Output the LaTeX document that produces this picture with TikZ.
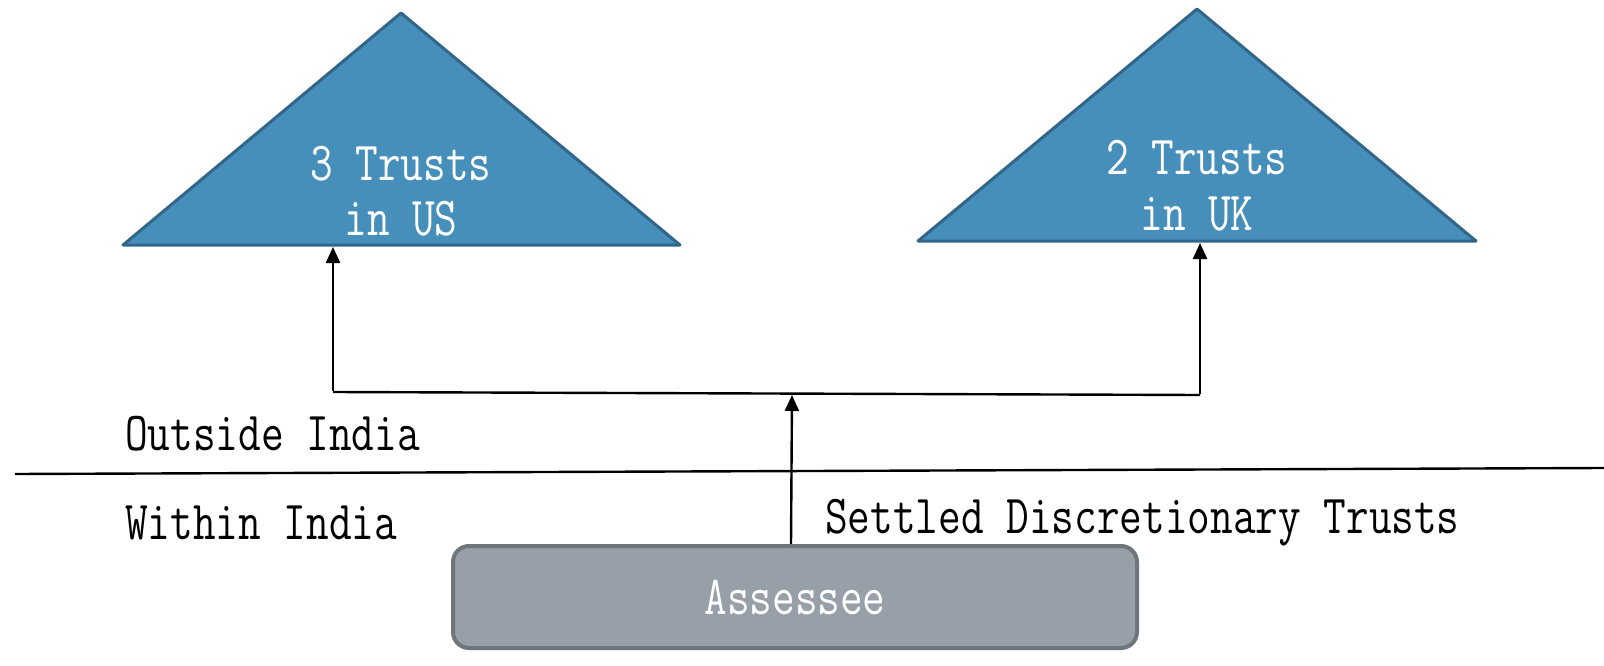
\documentclass[tikz,border=0pt]{standalone}
\usepackage{fontspec}
\newfontfamily\lblfont{Latin Modern Mono}[FakeStretch=0.8]
\usetikzlibrary{arrows.meta}
\definecolor{trifill}{HTML}{468FBA}
\definecolor{tridraw}{HTML}{31658A}
\definecolor{boxfill}{HTML}{979FA8}
\definecolor{boxdraw}{HTML}{6F767B}
\begin{document}
\begin{tikzpicture}[x=1pt,y=-1pt,
 lbl/.style={font=\fontsize{55}{66}\lblfont, inner sep=0pt, anchor=base},
 tri/.style={fill=trifill, draw=tridraw, line width=3pt, line join=round},
 conn/.style={line width=2.4pt},
 arr/.style={conn,-{Triangle[width=14pt,length=16pt]}}]
\useasboundingbox (0,0) rectangle (1604,666);
% triangles
\draw[tri] (401,13) -- (680,245) -- (123,245) -- cycle;
\draw[tri] (1197,9) -- (1476,241) -- (918,241) -- cycle;
\node[lbl, text=white] (us1) at (401,180) {3 Trusts};
\node[lbl, text=white] (us2) at (401,235) {in US};
\node[lbl, text=white] (uk1) at (1197,175) {2 Trusts};
\node[lbl, text=white] (uk2) at (1197,230) {in UK};
% divider
\coordinate (dl) at (15,474);
\coordinate (dr) at (1604,468);
\draw[conn] (dl) -- (dr);
\node[lbl, anchor=base west] (out) at (125,450) {Outside India};
\node[lbl, anchor=base west] (with) at (125,539) {Within India};
\node[lbl, anchor=base west] (sdt) at (825,533) {Settled Discretionary Trusts};
% assessee
\node[draw=boxdraw, fill=boxfill, line width=4pt, rounded corners=16pt,
      minimum width=684pt, minimum height=102pt, inner sep=0pt,
      font=\fontsize{55}{66}\lblfont, text=white] (as) at (795,597) {Assessee};
% connectors
\coordinate (usin) at (333,247);
\coordinate (ukin) at (1200,243);
\coordinate (hl) at (333,392);
\coordinate (hr) at (1200,395);
\coordinate (junc) at (792,395);
\draw[arr] ([xshift=-4pt]as.north) -- (junc);
\draw[conn] (hl) -- (hr);
\draw[arr] ([yshift=1pt]hl) -- (usin);
\draw[arr] ([yshift=1pt]hr) -- (ukin);
\end{tikzpicture}
\end{document}
